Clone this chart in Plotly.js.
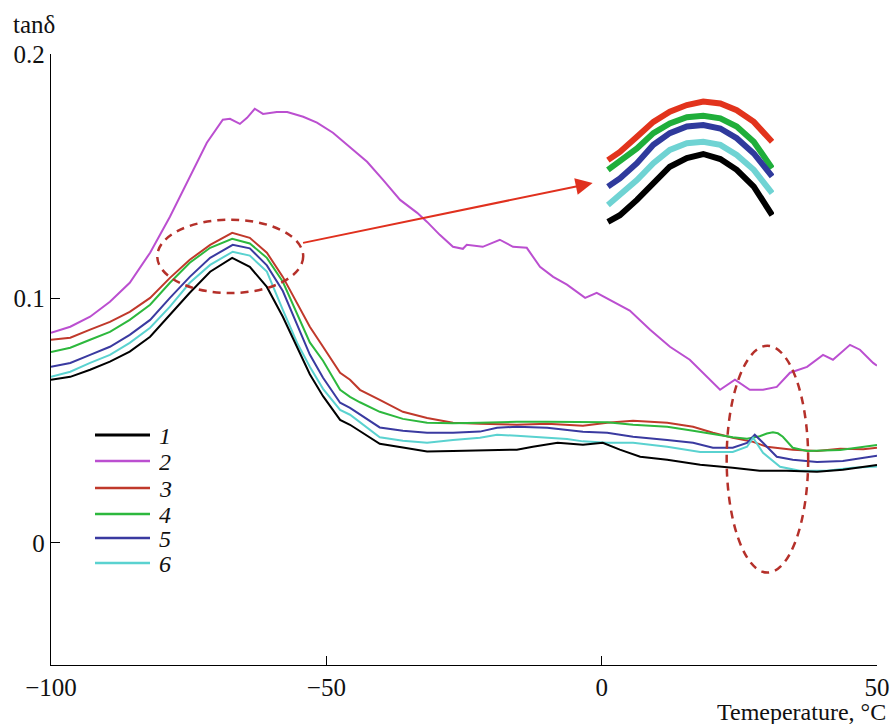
<!DOCTYPE html>
<html>
<head>
<meta charset="utf-8">
<script src="https://cdn.plot.ly/plotly-3.0.1.min.js"></script>
<style>html,body{margin:0;padding:0;background:#fff;}#chart{width:893px;height:724px;}</style>
</head>
<body>
<div id="chart"></div>
<script>
// ---- data ----
const seriesNames = ['1', '2', '3', '4', '5', '6'];
const seriesColors = ['#000000', '#bb4fd0', '#c0392b', '#2db83d', '#3a3aa0', '#5ad2d0'];

const temp1 = [-100, -96.5, -92.9, -89.3, -85.7, -82, -78.4, -74.8, -71.1, -67.1, -63.9, -60.8, -57.9, -55.3, -53, -50.6, -47.5, -45.7, -40.3, -36.1, -31.7, -27, -22.1, -15.4, -12.5, -8, -3.4, 0.2, 3.3, 7, 11.9, 17.9, 23.8, 28.7, 33.6, 39.1, 43.8, 48.7, 50];
const tan1 = [.0667, .0679, .0708, .0741, .0782, .0843, .0933, .1023, .1109, .1166, .1129, .1047, .0925, .0802, .0690, .0600, .0503, .0483, .0405, .0390, .0374, .0376, .0378, .0381, .0393, .0409, .0401, .0409, .0381, .0352, .0340, .0319, .0307, .0295, .0295, .0291, .0299, .0315, .0318];

const temp2 = [-100, -96.5, -92.9, -89.3, -85.7, -82, -78.4, -74.8, -71.7, -68.8, -67.5, -65.7, -64.4, -63, -61.5, -59, -57.1, -54.2, -51.7, -48.8, -45.7, -42.6, -39.7, -36.6, -33.5, -31.7, -29.4, -27, -25.2, -24.5, -21.6, -18.5, -16.1, -13.6, -11.2, -8.8, -6.3, -3, -0.9, 1.5, 5.1, 8.8, 12.4, 16, 19.1, 21.5, 24.2, 26.9, 29.3, 31.8, 34.2, 37.3, 40.2, 42, 45.1, 46.9, 49.3, 50];
const tan2 = [.0859, .0884, .0925, .0986, .1064, .1187, .1334, .1498, .1637, .1731, .1735, .1714, .1739, .1776, .1755, .1763, .1763, .1743, .1719, .1678, .1620, .1559, .1485, .1403, .1350, .1313, .1260, .1211, .1203, .1219, .1211, .1240, .1211, .1207, .1129, .1088, .1056, .1002, .1023, .0994, .0950, .0872, .0802, .0749, .0679, .0626, .0667, .0626, .0626, .0638, .0696, .0720, .0769, .0749, .0810, .0790, .0736, .0725];

const temp3 = [-100, -96.5, -92.9, -89.3, -85.7, -82, -78.4, -74.8, -71.1, -67.1, -63.9, -60.8, -57.9, -55.3, -53, -50.6, -47.5, -45.7, -43.9, -40.3, -36.1, -31.7, -27, -22.1, -15.4, -9.9, -3.4, 1, 5.7, 11.9, 16.6, 20.2, 23.8, 27.5, 30, 34.7, 39.1, 43.3, 47.5, 50];
const tan3 = [.0831, .0839, .0872, .0904, .0945, .1002, .1084, .1158, .1219, .1268, .1248, .1187, .1088, .0982, .0884, .0802, .0696, .0667, .0626, .0585, .0536, .0511, .0491, .0487, .0483, .0487, .0479, .0491, .0499, .0491, .0475, .0450, .0430, .0413, .0393, .0381, .0376, .0385, .0383, .0389];

const temp4 = [-100, -96.5, -92.9, -89.3, -85.7, -82, -78.4, -74.8, -71.1, -67.1, -63.9, -60.8, -57.9, -55.3, -53, -50.6, -47.5, -45.7, -43.9, -40.3, -36.1, -31.7, -27, -22.1, -15.4, -9.9, -3.4, 1, 5.7, 11.9, 16.6, 20.2, 23.8, 26.4, 28.7, 30, 31.1, 32, 32.9, 34.7, 37.3, 43.3, 47.5, 50];
const tan4 = [.0781, .0798, .0831, .0863, .0912, .0974, .1064, .1146, .1207, .1244, .1225, .1166, .1068, .0935, .0820, .0745, .0626, .0597, .0575, .0536, .0507, .0491, .0489, .0491, .0495, .0495, .0495, .0493, .0483, .0475, .0458, .0445, .0432, .0426, .0436, .0447, .0452, .0448, .0434, .0389, .0376, .0380, .0393, .0400];

const temp5 = [-100, -96.5, -92.9, -89.3, -85.7, -82, -78.4, -74.8, -71.1, -67, -63.9, -60.8, -57.9, -55.3, -53, -50.6, -47.5, -45.7, -40.3, -36.1, -31.7, -27, -22.1, -19, -15.4, -9.9, -3.4, 1, 5.7, 11.9, 16.6, 20.2, 23.8, 26.4, 27.8, 29.3, 31.8, 34.7, 39.1, 43.8, 48.7, 50];
const tan5 = [.0720, .0736, .0769, .0802, .0851, .0912, .1002, .1088, .1166, .1219, .1205, .1135, .1030, .0890, .0770, .0675, .0573, .0552, .0472, .0458, .0450, .0450, .0455, .0471, .0475, .0471, .0454, .0450, .0434, .0421, .0409, .0389, .0389, .0409, .0442, .0409, .0352, .0340, .0331, .0335, .0352, .0356];

const temp6 = [-100, -96.5, -92.9, -89.3, -85.7, -82, -78.4, -74.8, -71.1, -67, -63.9, -60.8, -57.9, -55.3, -53, -50.6, -47.5, -45.7, -40.3, -36.1, -31.7, -27, -22.1, -19, -15.4, -9.9, -6.3, -3.4, 1, 5.7, 11.9, 17.9, 23.8, 26.4, 27.5, 29.3, 32.4, 36, 40.9, 45.6, 49.3, 50];
const tan6 = [.0679, .0700, .0736, .0769, .0818, .0880, .0966, .1064, .1137, .1191, .1175, .1110, .0953, .0818, .0720, .0630, .0544, .0524, .0432, .0418, .0409, .0421, .0430, .0442, .0438, .0432, .0425, .0415, .0409, .0409, .0393, .0372, .0372, .0393, .0430, .0368, .0311, .0295, .0295, .0307, .0311, .0312];

// magnified inset of the peak region (curves 3,4,5,6,1)
const insetTemp = [-80, -78.1, -75.4, -72.8, -70.2, -67.5, -64.9, -62.2, -59.6, -56.9, -54.0];
const insetTan3 = [.1154, .1170, .1200, .1229, .1249, .1262, .1269, .1265, .1252, .1229, .1190];
const insetTan4 = [.1135, .1151, .1177, .1207, .1226, .1238, .1241, .1236, .1220, .1190, .1138];
const insetTan5 = [.1102, .1118, .1148, .1184, .1207, .1220, .1223, .1216, .1197, .1167, .1122];
const insetTan6 = [.1066, .1086, .1115, .1148, .1174, .1187, .1190, .1184, .1164, .1135, .1089];
const insetTan1 = [.1033, .1046, .1076, .1109, .1141, .1158, .1166, .1156, .1135, .1102, .1046];
const insetColors = ['#e2331c', '#1fae3a', '#2f3a9c', '#6fd3d3', '#000000'];

const xTicks = [-100, -50, 0, 50];
const yTicks = [0, 0.1, 0.2];
const yTickText = ['0', '0.1', '0.2'];

// ---- build ----
const temps = [temp1, temp2, temp3, temp4, temp5, temp6];
const tans = [tan1, tan2, tan3, tan4, tan5, tan6];
const drawOrder = [1, 2, 3, 4, 5, 0];
const traces = drawOrder.map(i => ({
  x: temps[i], y: tans[i], type: 'scatter', mode: 'lines', name: seriesNames[i],
  line: {color: seriesColors[i], width: 2}, showlegend: false, hoverinfo: 'skip'
}));
const insetSets = [insetTan3, insetTan4, insetTan5, insetTan6, insetTan1];
insetSets.forEach((ys, k) => traces.push({
  x: insetTemp, y: ys, type: 'scatter', mode: 'lines', xaxis: 'x2', yaxis: 'y2',
  line: {color: insetColors[k], width: 6}, showlegend: false, hoverinfo: 'skip'
}));

const W = 893, H = 724, L = 51, R = 16, T = 54, B = 59;
const pw = W - L - R, ph = H - T - B;
const px2x = p => (p - L) / pw;
const py2y = p => (H - B - p) / ph;

const font = 'Liberation Serif, Times New Roman, serif';
const shapes = [
  {type: 'circle', xref: 'x', yref: 'y', x0: -80.7, x1: -54.2, y0: 0.1022, y1: 0.1322,
   line: {color: '#b5302a', width: 2.5, dash: '8px,6px'}},
  {type: 'circle', xref: 'x', yref: 'y', x0: 22.7, x1: 37.5, y0: -0.0122, y1: 0.0806,
   line: {color: '#b5302a', width: 2.5, dash: '8px,6px'}}
];
const annotations = [
  {xref: 'paper', yref: 'paper', x: px2x(11), y: py2y(25), xanchor: 'left', yanchor: 'middle',
   text: 'tanδ', showarrow: false, font: {family: font, size: 25, color: '#111'}},
  {xref: 'paper', yref: 'paper', x: px2x(888), y: py2y(712), xanchor: 'right', yanchor: 'middle',
   text: 'Temeperature, °C', showarrow: false, height: 24, font: {family: font, size: 24, color: '#111'}},
  {xref: 'x', yref: 'y', x: -1.64, y: 0.1472, ax: -54.5, ay: 0.1226, axref: 'x', ayref: 'y',
   text: '', showarrow: true, arrowhead: 2, arrowsize: 1.7, arrowwidth: 2, arrowcolor: '#e0301e'}
];
// legend drawn with shapes and annotations
const legendRowsY = [435, 461, 488, 514, 538, 563];
seriesNames.forEach((nm, i) => {
  shapes.push({type: 'line', xref: 'paper', yref: 'paper', x0: px2x(95), x1: px2x(150),
    y0: py2y(legendRowsY[i]), y1: py2y(legendRowsY[i]),
    line: {color: seriesColors[i], width: i === 0 ? 3 : 2.5}});
  annotations.push({xref: 'paper', yref: 'paper', x: px2x(158), y: py2y(legendRowsY[i]),
    xanchor: 'left', yanchor: 'middle', text: '<i>' + nm + '</i>', showarrow: false,
    height: 23, borderpad: 0, font: {family: font, size: 24, color: '#111'}});
});

const axisCommon = {
  showline: true, linecolor: '#000', linewidth: 1.3, ticks: 'inside', ticklen: 9,
  tickwidth: 1.3, tickcolor: '#000', showgrid: false, zeroline: false,
  tickfont: {family: font, size: 25, color: '#111'}
};
const layout = {
  width: W, height: H, margin: {l: L, r: R, t: T, b: B}, paper_bgcolor: '#fff', plot_bgcolor: '#fff',
  showlegend: false,
  xaxis: Object.assign({}, axisCommon, {range: [-100, 50], tickvals: xTicks}),
  yaxis: Object.assign({}, axisCommon, {range: [-0.05, 0.2], tickvals: yTicks, ticktext: yTickText}),
  xaxis2: {domain: [px2x(606), px2x(774)], range: [-80.3, -53.7], anchor: 'y2', visible: false},
  yaxis2: {domain: [py2y(232), py2y(94)], range: [0.1013, 0.12837], anchor: 'x2', visible: false},
  shapes: shapes, annotations: annotations
};
Plotly.newPlot('chart', traces, layout, {staticPlot: true, displayModeBar: false});
</script>
</body>
</html>
